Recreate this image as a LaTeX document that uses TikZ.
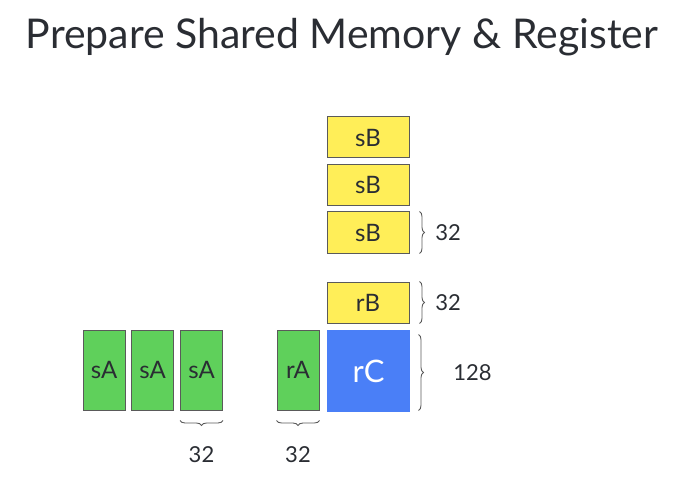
\documentclass[tikz,border=0pt]{standalone}
\usepackage{fontspec}
\setmainfont{Lato}
\usetikzlibrary{decorations.pathreplacing}
\definecolor{smgreen}{HTML}{5FD05B}
\definecolor{smyellow}{HTML}{FFEE58}
\definecolor{rcblue}{HTML}{4A7FF7}
\definecolor{edgegray}{HTML}{5A5A5A}
\definecolor{textgray}{HTML}{2A2D33}
\tikzset{
    tile/.style = {draw = edgegray, line width = 1pt, inner sep = 0pt, text = textgray, font = \fontsize{24}{24}\selectfont},
    brc/.style = {draw = edgegray, line width = 0.9pt, decorate, decoration = {brace, amplitude = 5pt}},
    size/.style = {text = textgray, font = \fontsize{22}{22}\selectfont}
}
\begin{document}
\begin{tikzpicture}[x = 1pt, y = -1pt]
        \useasboundingbox (0,0) rectangle (686,484);
        \node[text = textgray, font = \fontsize{41}{41}\selectfont] (title) at (342,37) {Prepare Shared Memory \& Register};
        \foreach \i/\x in {1/104,2/152.5,3/201.5}{
        \node[tile, fill = smgreen, minimum width = 42pt, minimum height = 80pt] (sA\i) at (\x,370) {sA};
        }
        \node[tile, fill = smgreen, minimum width = 42pt, minimum height = 80pt] (rA) at (298,370) {rA};
        \node[tile, draw = none, fill = rcblue, text = white, minimum width = 83pt, minimum height = 82pt, font = \fontsize{31}{31}\selectfont] (rC) at (368.5,371) {rC};
        \foreach \i/\y in {1/137.5,2/185,3/232.5}{
        \node[tile, fill = smyellow, minimum width = 82pt, minimum height = 41pt] (sB\i) at (368,\y) {sB};
        }
        \node[tile, fill = smyellow, minimum width = 82pt, minimum height = 41pt] (rB) at (368,302.5) {rB};
        % braces on the right
        \draw[brc] ([xshift = 10pt]sB3.north east) -- ([xshift = 10pt]sB3.south east) node[size, midway, right = 12pt] (nsB) {32};
        \draw[brc] ([xshift = 10pt]rB.north east) -- ([xshift = 10pt]rB.south east) node[size, midway, right = 12pt] (nrB) {32};
        \draw[brc] ([xshift = 8pt, yshift = -5pt]rC.north east) -- ([xshift = 8pt, yshift = 2pt]rC.south east) node[size, midway, right = 31pt] (nrC) {128};
        % braces below
        \draw[brc] ([yshift = -10pt]sA3.south east) -- ([yshift = -10pt]sA3.south west) node[size, midway, below = 22pt] (nsA) {32};
        \draw[brc] ([yshift = -10pt]rA.south east) -- ([yshift = -10pt]rA.south west) node[size, midway, below = 22pt] (nrA) {32};
    \end{tikzpicture}
\end{document}
